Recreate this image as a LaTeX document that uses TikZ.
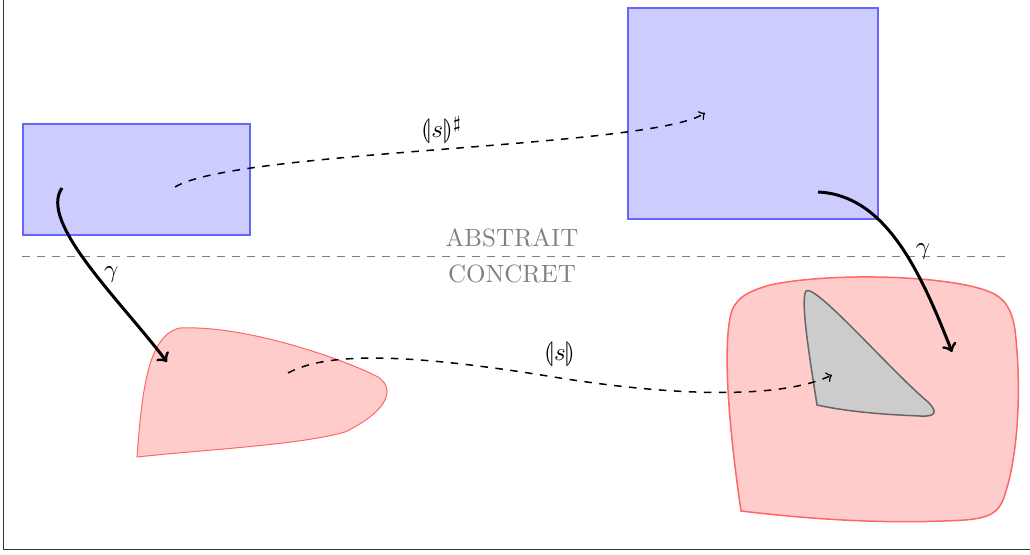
\documentclass[tikz,border=0pt]{standalone}
\usepackage{stmaryrd}
\begin{document}
\begin{tikzpicture}[x=0.4pt,y=-0.4pt,
    abstrait/.style={fill=blue!20,draw=blue!60,semithick},
    concret/.style={fill=red!20,draw=red!60},
    fleche/.style={very thick,->},
    semantique/.style={semithick,dashed,->}]
            \useasboundingbox (0,0) rectangle (1030,554);
            \draw [black!80](3.5,0) |- (1030,549.5);
            % les deux domaines
            \draw [gray,dashed] (22,256) -- (1005,256);
            \node [gray,above] (abs) at (512,256) {ABSTRAIT};
            \node [gray,below] (conc) at (512,256) {CONCRET};
            \draw [abstrait] (23,124) rectangle (250,235);
            \draw [abstrait] (628,8) rectangle (878,219);
            \draw [concret] (137,457) .. controls (142,390) and (148,335) .. (180,328)
                .. controls (250,325) and (350,362) .. (378,377)
                .. controls (395,388) and (390,410) .. (345,432)
                .. controls (300,445) and (200,450) .. (137,457) -- cycle;
            \draw [concret,semithick] (741,511) .. controls (732,450) and (722,360) .. (730,318)
                .. controls (733,300) and (745,292) .. (770,285)
                .. controls (830,272) and (950,275) .. (990,292)
                .. controls (1005,298) and (1012,310) .. (1015,330)
                .. controls (1022,390) and (1018,460) .. (1003,500)
                .. controls (998,512) and (990,518) .. (965,520)
                .. controls (880,525) and (800,518) .. (741,511) -- cycle;
            \draw [fill=gray!40,draw=black!60,semithick] (817,405) .. controls (810,360) and (800,300) .. (806,291)
                .. controls (815,283) and (890,370) .. (928,402)
                .. controls (938,412) and (936,417) .. (920,416)
                .. controls (870,414) and (840,410) .. (817,405) -- cycle;
            % les fleches
            \coordinate (a) at (62,188);
            \coordinate (b) at (167,362);
            \coordinate (c) at (818,192);
            \coordinate (d) at (952,352);
            \coordinate (e) at (175,187);
            \coordinate (f) at (705,113);
            \coordinate (g) at (288,373);
            \coordinate (h) at (832,375);
            \draw [fleche] (a) .. controls (38,222) and (120,300) .. (b)
                node [pos=0.55,anchor=west,inner sep=1pt,xshift=2pt] (g1) {$\gamma$};
            \draw [fleche] (c) .. controls (885,195) and (920,270) .. (d)
                node [pos=0.55,anchor=west,inner sep=1pt,xshift=3pt] (g2) {$\gamma$};
            \draw [semantique] (e) .. controls (235,150) and (650,148) .. (f)
                node [pos=0.5,above=-1.5pt] (sa) {$\llparenthesis s\rrparenthesis^\sharp$};
            \draw [semantique] (g) .. controls (330,350) and (420,355) .. (560,378)
                node [above=1pt] (sc) {$\llparenthesis s\rrparenthesis$}
                .. controls (700,400) and (790,395) .. (h);
        \end{tikzpicture}
\end{document}
